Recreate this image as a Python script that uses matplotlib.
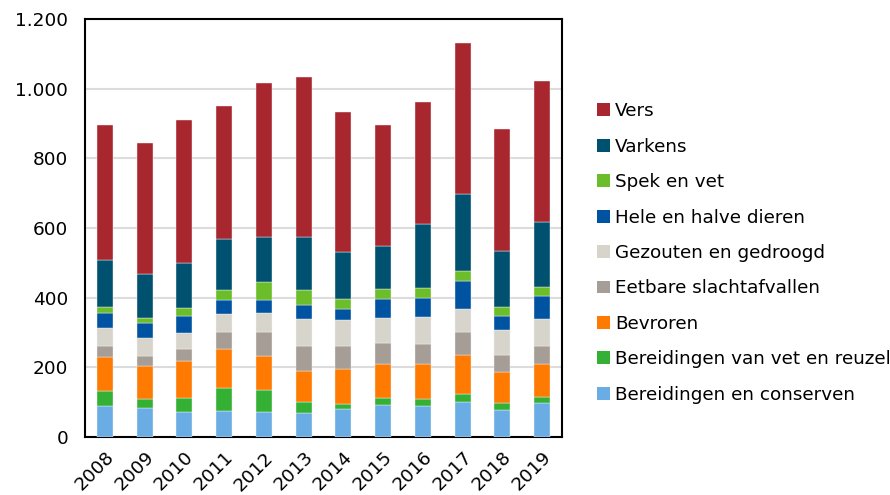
import matplotlib
matplotlib.use("Agg")
import matplotlib.pyplot as plt
from matplotlib.patches import Patch
from matplotlib.ticker import FuncFormatter, MultipleLocator

years = ["2008", "2009", "2010", "2011", "2012", "2013",
         "2014", "2015", "2016", "2017", "2018", "2019"]

# Stacked series, bottom to top
bereidingen_conserven = [89, 83, 71, 74, 73, 69, 80, 92, 89, 100, 78, 97]
bereidingen_vet = [44, 25, 42, 67, 63, 32, 16, 19, 21, 25, 19, 18]
bevroren = [96, 97, 104, 113, 98, 89, 98, 100, 99, 110, 91, 96]
eetbare_slachtafvallen = [32, 28, 37, 48, 68, 71, 67, 59, 59, 66, 48, 50]
gezouten_gedroogd = [52, 52, 46, 50, 55, 78, 75, 73, 77, 67, 72, 77]
hele_halve_dieren = [42, 41, 47, 42, 35, 41, 31, 53, 55, 80, 40, 67]
spek_en_vet = [19, 17, 23, 28, 52, 43, 29, 29, 28, 29, 25, 27]
varkens = [134, 125, 129, 147, 129, 152, 136, 122, 184, 221, 162, 186]
vers = [388, 376, 410, 380, 442, 458, 400, 348, 348, 433, 350, 405]

series = [
    ("Bereidingen en conserven", bereidingen_conserven, "#6AADE4"),
    ("Bereidingen van vet en reuzel", bereidingen_vet, "#34B134"),
    ("Bevroren", bevroren, "#FF7A00"),
    ("Eetbare slachtafvallen", eetbare_slachtafvallen, "#A59D96"),
    ("Gezouten en gedroogd", gezouten_gedroogd, "#D7D4CB"),
    ("Hele en halve dieren", hele_halve_dieren, "#0053A1"),
    ("Spek en vet", spek_en_vet, "#6BBD2A"),
    ("Varkens", varkens, "#00506F"),
    ("Vers", vers, "#A8272F"),
]

plt.rcParams["font.family"] = ["DejaVu Sans"]

fig = plt.figure(figsize=(8.9, 4.95), dpi=100)
ax = fig.add_axes([0.0955, 0.117, 0.536, 0.845])

x = list(range(len(years)))
bottom = [0] * len(years)
for name, vals, color in series:
    ax.bar(x, vals, width=0.4, bottom=bottom, color=color,
           edgecolor="#F2F2F2", linewidth=0.3, zorder=3)
    bottom = [b + v for b, v in zip(bottom, vals)]

ax.set_xlim(-0.5, len(years) - 0.5)
ax.set_ylim(0, 1200)
ax.yaxis.set_major_locator(MultipleLocator(200))
ax.yaxis.set_major_formatter(
    FuncFormatter(lambda v, p: f"{int(v):,}".replace(",", ".")))
ax.grid(axis="y", color="#DCDCDC", linewidth=1.5, zorder=0)
ax.set_axisbelow(True)

ax.set_xticks(x)
ax.set_xticklabels(years, rotation=45, ha="right", rotation_mode="anchor")
ax.tick_params(axis="both", length=0, labelsize=13.3, colors="black")
ax.tick_params(axis="y", pad=12)
ax.tick_params(axis="x", pad=8)

for side in ["left", "right", "top", "bottom"]:
    ax.spines[side].set_color("black")
    ax.spines[side].set_linewidth(1.5)

handles = [Patch(facecolor=c, edgecolor="none", label=n)
           for n, _, c in reversed(series)]
fig.legend(handles=handles, loc="center left",
           bbox_to_anchor=(597 / 890, 0.489), frameon=False,
           fontsize=13.2, handlelength=0.7, handleheight=0.7,
           handletextpad=0.3, labelspacing=0.95, borderpad=0,
           borderaxespad=0)

fig.savefig("out.png", dpi=100)
